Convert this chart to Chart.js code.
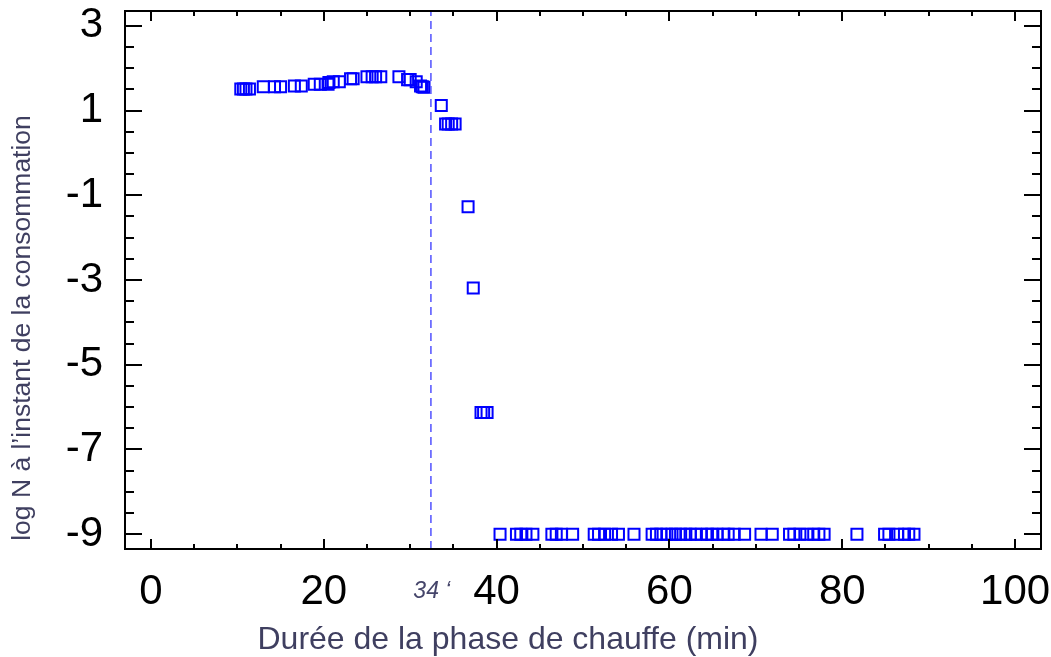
<!DOCTYPE html>
<html>
<head>
<meta charset="utf-8">
<script src="https://cdn.jsdelivr.net/npm/chart.js@4"></script>
<style>
  html, body { margin: 0; padding: 0; background: #fff; }
</style>
</head>
<body>
<canvas id="chart" width="1051" height="657"></canvas>
<script>
// Heating time (min) and log N at consumption
const durations = [
  10.4, 10.7, 11.0, 11.4, 13.0, 14.3, 15.0, 16.6, 17.4, 18.9, 19.6, 20.5,
  20.6, 21.1, 21.8, 23.1, 23.4, 25.0, 25.6, 26.0, 26.6, 28.7, 29.7, 30.0,
  30.7, 31.2, 31.4, 31.6, 33.6, 34.1, 34.4, 34.8, 35.2, 36.7, 37.3, 38.2,
  38.5, 38.9,
  40.4, 42.3, 42.8, 43.4, 44.2, 46.4, 46.9, 47.5, 48.8, 51.3, 51.8, 52.5,
  53.3, 54.1, 55.9, 58.0, 58.5, 59.0, 59.7, 60.3, 60.7, 61.3, 61.9, 62.4,
  63.0, 63.7, 64.4, 64.9, 65.5, 66.3, 66.8, 67.5, 68.7, 70.6, 71.9, 73.9,
  74.4, 75.1, 75.9, 76.7, 77.3, 77.9, 81.7, 84.9, 85.4, 86.4, 87.2, 87.7,
  88.3
];
const logN = [
  1.51, 1.51, 1.51, 1.51, 1.56, 1.56, 1.56, 1.58, 1.58, 1.62, 1.62, 1.62,
  1.66, 1.68, 1.68, 1.75, 1.75, 1.80, 1.80, 1.80, 1.80, 1.80, 1.73, 1.73,
  1.68, 1.58, 1.56, 1.55, 1.12, 0.68, 0.68, 0.68, 0.68, -1.27, -3.19, -6.13,
  -6.13, -6.13,
  -9, -9, -9, -9, -9, -9, -9, -9, -9, -9, -9, -9,
  -9, -9, -9, -9, -9, -9, -9, -9, -9, -9, -9, -9,
  -9, -9, -9, -9, -9, -9, -9, -9, -9, -9, -9, -9,
  -9, -9, -9, -9, -9, -9, -9, -9, -9, -9, -9, -9,
  -9
];

const xTicks = [0, 20, 40, 60, 80, 100];
const yTicks = [-9, -7, -5, -3, -1, 1, 3];
const xRange = [-3, 103];
const yRange = [-9.35, 3.35];

// vertical marker and its label
const markerX = 32.4;
const markerLabel = '34 \u2018';

const xTitle = 'Durée de la phase de chauffe (min)';
const yTitle = 'log N à l\u2019instant de la consommation';

const points = durations.map((d, i) => ({ x: d, y: logN[i] }));

// Frame, inward ticks on all four sides, titles and marker label
const frameTicks = {
  id: 'frameTicks',
  afterDraw(chart) {
    const { ctx, chartArea: a, scales: { x, y } } = chart;
    ctx.save();
    ctx.strokeStyle = '#000';
    ctx.lineWidth = 2;
    ctx.beginPath();
    for (let v = 0; v <= 100; v += 5) {
      const px = Math.round(x.getPixelForValue(v));
      const len = v % 20 === 0 ? 10 : 5;
      ctx.moveTo(px, a.bottom); ctx.lineTo(px, a.bottom - len);
      ctx.moveTo(px, a.top); ctx.lineTo(px, a.top + len);
    }
    for (let v = -9; v <= 3; v += 0.5) {
      const py = Math.round(y.getPixelForValue(v));
      const len = (v + 9) % 2 === 0 ? 17 : 9;
      ctx.moveTo(a.left, py); ctx.lineTo(a.left + len, py);
      ctx.moveTo(a.right, py); ctx.lineTo(a.right - len, py);
    }
    ctx.stroke();
    ctx.strokeRect(a.left, a.top, a.right - a.left, a.bottom - a.top);

    // marker label
    ctx.fillStyle = '#45456a';
    ctx.font = 'italic 23px "Liberation Sans"';
    ctx.textAlign = 'center';
    ctx.textBaseline = 'middle';
    ctx.fillText(markerLabel, x.getPixelForValue(markerX) + 1, a.bottom + 43);

    // axis titles
    ctx.fillStyle = '#3f3f60';
    ctx.font = '32px "Liberation Sans"';
    ctx.textBaseline = 'alphabetic';
    ctx.fillText(xTitle, 508, 649);

    ctx.translate(30, 328);
    ctx.rotate(-Math.PI / 2);
    ctx.font = '26.5px "Liberation Sans"';
    ctx.fillText(yTitle, 0, 0);
    ctx.restore();
  }
};

// keep the plot box fixed: no extra room for overhanging tick labels
const noOverhang = s => {
  s.paddingLeft = 0; s.paddingRight = 0; s.paddingTop = 0; s.paddingBottom = 0;
};

new Chart(document.getElementById('chart'), {
  type: 'scatter',
  data: {
    datasets: [
      {
        type: 'line',
        data: [{ x: markerX, y: yRange[0] }, { x: markerX, y: yRange[1] }],
        borderColor: '#5c5cff',
        borderWidth: 1.6,
        borderDash: [8, 5],
        pointRadius: 0
      },
      {
        data: points,
        pointStyle: 'rect',
        pointRadius: 7.8,
        pointBorderWidth: 2,
        pointBorderColor: '#0000ff',
        pointBackgroundColor: 'rgba(0,0,0,0)'
      }
    ]
  },
  options: {
    responsive: false,
    animation: false,
    layout: { padding: { top: 11, right: 10, left: 0, bottom: 0 } },
    plugins: { legend: { display: false }, tooltip: { enabled: false } },
    scales: {
      x: {
        type: 'linear',
        min: xRange[0],
        max: xRange[1],
        grid: { display: false, drawTicks: false },
        border: { display: false },
        afterBuildTicks: s => { s.ticks = xTicks.map(v => ({ value: v })); },
        afterFit: s => { s.height = 108; noOverhang(s); },
        ticks: {
          padding: 18,
          maxRotation: 0,
          color: '#000',
          font: { family: 'Liberation Sans', size: 42 }
        }
      },
      y: {
        type: 'linear',
        min: yRange[0],
        max: yRange[1],
        grid: { display: false, drawTicks: false },
        border: { display: false },
        afterBuildTicks: s => { s.ticks = yTicks.map(v => ({ value: v })); },
        afterFit: s => { s.width = 125; noOverhang(s); },
        ticks: {
          padding: 22,
          color: '#000',
          font: { family: 'Liberation Sans', size: 42 }
        }
      }
    }
  },
  plugins: [frameTicks]
});
</script>
</body>
</html>
